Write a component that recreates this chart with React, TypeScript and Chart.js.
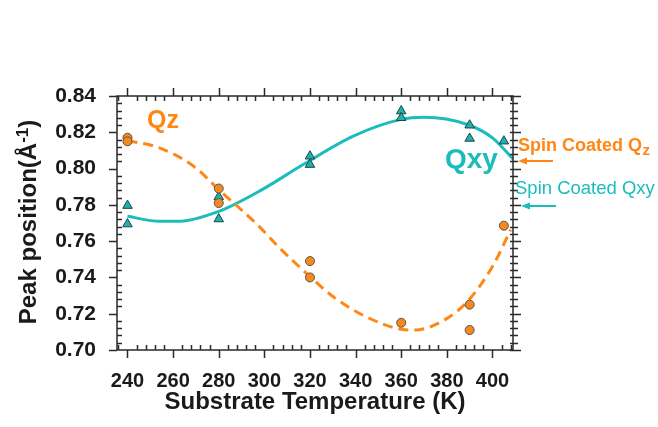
import React, { useEffect, useRef } from 'react';
import { Chart, registerables } from 'chart.js';

Chart.register(...registerables);

const FONT = '"Liberation Sans", Arial, Helvetica, sans-serif';
const ORANGE = '#FF8716';
const TEAL = '#1CBCBC';
const INK = '#1a1a1a';

// Axis ticks
const xTickValues = [240, 260, 280, 300, 320, 340, 360, 380, 400];
const yTickValues = [0.7, 0.72, 0.74, 0.76, 0.78, 0.8, 0.82, 0.84];
const xMin = 235.4;
const xMax = 409;
const yMin = 0.7;
const yMax = 0.84;

// Measured points: Qz (orange circles)
const qzTemp = [240, 240, 280, 280, 320, 320, 360, 390, 390, 405];
const qzPeak = [0.817, 0.815, 0.789, 0.781, 0.749, 0.740, 0.715, 0.725, 0.711, 0.7685];

// Measured points: Qxy (teal triangles)
const qxyTemp = [240, 240, 280, 280, 320, 320, 360, 360, 390, 390, 405];
const qxyPeak = [0.7796, 0.7694, 0.7844, 0.7722, 0.8068, 0.8022, 0.8317, 0.828, 0.8239, 0.8166, 0.8151];

// Fitted curves
const qzFitTemp = [240, 254, 269, 280, 297, 306, 320, 331, 346, 360, 366, 379, 389, 400, 408];
const qzFitPeak = [0.8155, 0.8114, 0.8013, 0.7884, 0.769, 0.7571, 0.7405, 0.7286, 0.7175, 0.7114, 0.711, 0.7166, 0.7267, 0.746, 0.7663];

const qxyFitTemp = [240, 254, 262, 280, 299, 317, 339, 360, 370, 389, 400, 409];
const qxyFitPeak = [0.7737, 0.7709, 0.7709, 0.7764, 0.7884, 0.8022, 0.8179, 0.8271, 0.8283, 0.8243, 0.8169, 0.8053];

const pts = (xs: number[], ys: number[]) => xs.map((x, i) => ({ x, y: ys[i] }));

function drawArrow(ctx: CanvasRenderingContext2D, x1: number, x2: number, y: number, color: string) {
  ctx.save();
  ctx.strokeStyle = color;
  ctx.fillStyle = color;
  ctx.lineWidth = 2;
  ctx.beginPath();
  ctx.moveTo(x2, y);
  ctx.lineTo(x1 + 6, y);
  ctx.stroke();
  ctx.beginPath();
  ctx.moveTo(x1, y);
  ctx.lineTo(x1 + 9, y - 3.5);
  ctx.lineTo(x1 + 9, y + 3.5);
  ctx.closePath();
  ctx.fill();
  ctx.restore();
}

const overlay = {
  id: 'overlay',
  afterDatasetsDraw(chart: any) {
    const { ctx, chartArea: a, scales } = chart;
    const sx = scales.x;
    const sy = scales.y;
    ctx.save();
    ctx.strokeStyle = '#2a2a2a';
    ctx.lineWidth = 1.5;
    ctx.strokeRect(a.left, a.top, a.right - a.left, a.bottom - a.top);
    ctx.beginPath();
    // x ticks
    for (const v of xTickValues) {
      const px = Math.round(sx.getPixelForValue(v)) + 0.5;
      ctx.moveTo(px, a.bottom);
      ctx.lineTo(px, a.bottom + 8);
      ctx.moveTo(px, a.top);
      ctx.lineTo(px, a.top - 8);
    }
    for (let v = 236; v <= 408; v += 4) {
      if (v % 20 === 0) continue;
      const px = Math.round(sx.getPixelForValue(v)) + 0.5;
      ctx.moveTo(px, a.bottom);
      ctx.lineTo(px, a.bottom - 5);
      ctx.moveTo(px, a.top);
      ctx.lineTo(px, a.top + 5);
    }
    // y ticks
    for (const v of yTickValues) {
      const py = Math.round(sy.getPixelForValue(v)) + 0.5;
      ctx.moveTo(a.left, py);
      ctx.lineTo(a.left - 8, py);
      ctx.moveTo(a.right - 3, py);
      ctx.lineTo(a.right + 8, py);
    }
    for (let i = 1; i < 35; i++) {
      if (i % 5 === 0) continue;
      const v = yMin + i * 0.004;
      const py = Math.round(sy.getPixelForValue(v)) + 0.5;
      ctx.moveTo(a.left, py);
      ctx.lineTo(a.left + 5, py);
      ctx.moveTo(a.right - 3, py);
      ctx.lineTo(a.right + 5, py);
    }
    ctx.stroke();
    ctx.restore();
  },
  afterDraw(chart: any) {
    const { ctx } = chart;
    ctx.save();
    ctx.textAlign = 'left';
    ctx.textBaseline = 'alphabetic';

    // Qz label
    ctx.fillStyle = ORANGE;
    ctx.font = `bold 25px ${FONT}`;
    ctx.fillText('Qz', 147, 128);

    // Qxy label
    ctx.fillStyle = TEAL;
    ctx.font = `bold 28px ${FONT}`;
    ctx.fillText('Qxy', 445, 168);

    // Spin coated Qz
    ctx.fillStyle = ORANGE;
    ctx.font = `bold 18px ${FONT}`;
    const s1 = 'Spin Coated Q';
    ctx.fillText(s1, 518, 151);
    const w1 = ctx.measureText(s1).width;
    ctx.font = `bold 15px ${FONT}`;
    ctx.fillText('z', 518 + w1 + 0.5, 155);
    drawArrow(ctx, 518, 553, 161, ORANGE);

    // Spin coated Qxy
    ctx.fillStyle = TEAL;
    ctx.font = `18.5px ${FONT}`;
    ctx.fillText('Spin Coated Qxy', 515, 194);
    drawArrow(ctx, 521, 556, 206, TEAL);

    // Y axis title with superscript
    ctx.fillStyle = INK;
    ctx.translate(36, 222);
    ctx.rotate(-Math.PI / 2);
    const main = 'Peak position(Å';
    const sup = '-1';
    const close = ')';
    ctx.font = `bold 24px ${FONT}`;
    const wm = ctx.measureText(main).width;
    const wc = ctx.measureText(close).width;
    ctx.font = `bold 17px ${FONT}`;
    const ws = ctx.measureText(sup).width;
    const total = wm + ws + wc;
    let x0 = -total / 2;
    ctx.font = `bold 24px ${FONT}`;
    ctx.fillText(main, x0, 0);
    x0 += wm;
    ctx.font = `bold 17px ${FONT}`;
    ctx.fillText(sup, x0, -8);
    x0 += ws;
    ctx.font = `bold 24px ${FONT}`;
    ctx.fillText(close, x0, 0);
    ctx.restore();
  },
};

export default function App() {
  const ref = useRef<HTMLCanvasElement>(null);

  useEffect(() => {
    if (!ref.current) return;
    const chart = new Chart(ref.current, {
      type: 'scatter',
      data: {
        datasets: [
          {
            label: 'Qz measured',
            data: pts(qzTemp, qzPeak),
            pointStyle: 'circle',
            pointRadius: 4.5,
            backgroundColor: '#F7891C',
            borderColor: '#555',
            borderWidth: 1,
            order: 1,
          },
          {
            label: 'Qxy measured',
            data: pts(qxyTemp, qxyPeak),
            pointStyle: 'triangle',
            pointRadius: 5.5,
            backgroundColor: '#1FB0B0',
            borderColor: '#244',
            borderWidth: 1,
            order: 2,
          },
          {
            label: 'Qz fit',
            data: pts(qzFitTemp, qzFitPeak),
            showLine: true,
            pointRadius: 0,
            borderColor: ORANGE,
            borderWidth: 3,
            borderDash: [10, 6],
            cubicInterpolationMode: 'monotone',
            fill: false,
            order: 3,
          },
          {
            label: 'Qxy fit',
            data: pts(qxyFitTemp, qxyFitPeak),
            showLine: true,
            pointRadius: 0,
            borderColor: TEAL,
            borderWidth: 3,
            cubicInterpolationMode: 'monotone',
            fill: false,
            order: 4,
          },
        ],
      } as any,
      options: {
        animation: false,
        responsive: false,
        devicePixelRatio: 1,
        layout: { padding: { top: 96, right: 145, bottom: 0, left: 0 } },
        plugins: {
          legend: { display: false },
          tooltip: { enabled: false },
        },
        scales: {
          x: {
            type: 'linear',
            min: xMin,
            max: xMax,
            grid: { display: false, drawTicks: false },
            border: { display: false },
            afterBuildTicks: (s: any) => {
              s.ticks = xTickValues.map((v) => ({ value: v }));
            },
            afterFit: (s: any) => {
              s.height = 77;
            },
            ticks: {
              color: INK,
              font: { family: FONT, size: 20, weight: 'bold' },
              padding: 19,
              maxRotation: 0,
              autoSkip: false,
              callback: (v: any) => String(v),
            },
            title: {
              display: true,
              text: 'Substrate Temperature (K)',
              color: INK,
              font: { family: FONT, size: 24, weight: 'bold' },
              padding: { top: 0, bottom: 10 },
            },
          },
          y: {
            type: 'linear',
            min: yMin,
            max: yMax,
            grid: { display: false, drawTicks: false },
            border: { display: false },
            afterBuildTicks: (s: any) => {
              s.ticks = yTickValues.map((v) => ({ value: v }));
            },
            afterFit: (s: any) => {
              s.width = 117;
            },
            ticks: {
              color: INK,
              font: { family: FONT, size: 21, weight: 'bold' },
              padding: 21,
              autoSkip: false,
              callback: (v: any) => Number(v).toFixed(2),
            },
          },
        },
      } as any,
      plugins: [overlay],
    });
    return () => chart.destroy();
  }, []);

  return (
    <div style={{ position: 'absolute', left: 0, top: 0, width: 658, height: 427, background: '#fff' }}>
      <canvas ref={ref} width={658} height={427} style={{ width: 658, height: 427, display: 'block' }} />
    </div>
  );
}
